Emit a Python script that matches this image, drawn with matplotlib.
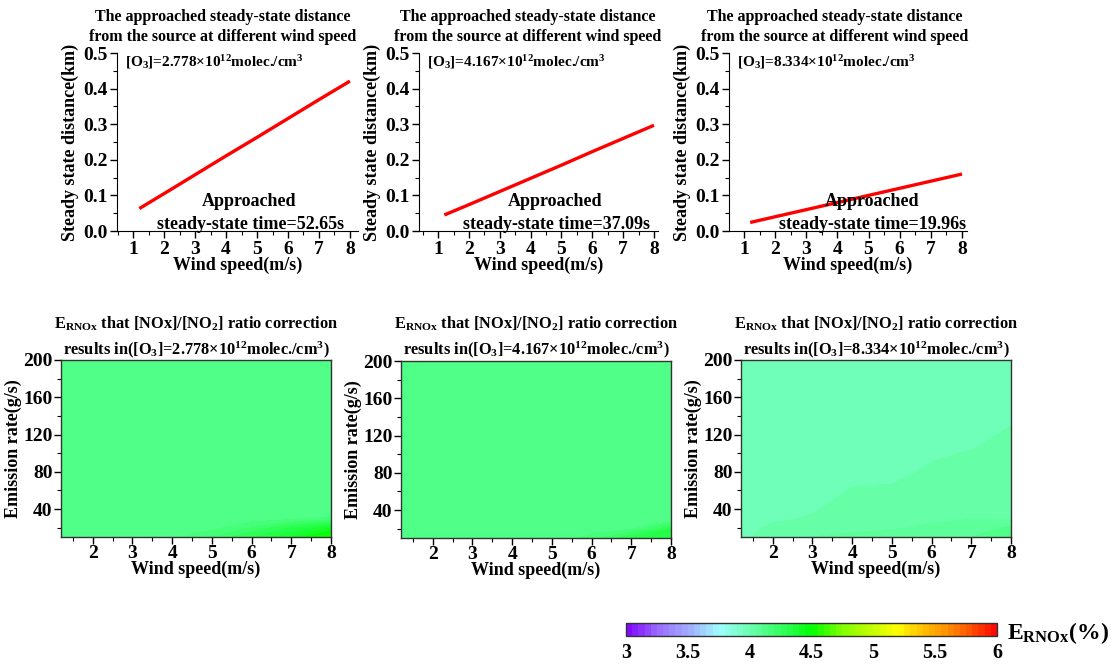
import numpy as np
import matplotlib
matplotlib.use('Agg')
import matplotlib.pyplot as plt
from matplotlib.colors import LinearSegmentedColormap
from matplotlib.ticker import MultipleLocator

plt.rcParams['font.family'] = 'Liberation Serif'
plt.rcParams['font.weight'] = 'bold'
plt.rcParams['axes.labelweight'] = 'bold'
plt.rcParams['mathtext.default'] = 'regular'

# --- top row: steady-state distance against wind speed ---
wind = [1.2, 2, 3, 4, 5, 6, 7, 8]
o3_labels = ['2.778', '4.167', '8.334']
steady_times = ['52.65', '37.09', '19.96']
dist_low = [0.063, 0.105, 0.158, 0.211, 0.263, 0.316, 0.369, 0.421]
dist_mid = [0.045, 0.074, 0.111, 0.148, 0.185, 0.223, 0.260, 0.297]
dist_high = [0.024, 0.040, 0.060, 0.080, 0.100, 0.120, 0.140, 0.160]

# --- bottom row: E_RNOx (%) on the wind speed / emission rate grid ---
emission = [10, 20, 30, 40, 60, 80, 100, 120, 140, 160, 200]
e_low = [
    [4.12, 4.12, 4.12, 4.14, 4.20, 4.30, 4.40, 4.55],
    [4.12, 4.12, 4.12, 4.12, 4.13, 4.20, 4.30, 4.40],
    [4.12, 4.12, 4.12, 4.12, 4.12, 4.12, 4.13, 4.16],
    [4.12, 4.12, 4.12, 4.12, 4.12, 4.12, 4.12, 4.12],
    [4.12, 4.12, 4.12, 4.12, 4.12, 4.12, 4.12, 4.12],
    [4.12, 4.12, 4.12, 4.12, 4.12, 4.12, 4.12, 4.12],
    [4.12, 4.12, 4.12, 4.12, 4.12, 4.12, 4.12, 4.12],
    [4.12, 4.12, 4.12, 4.12, 4.12, 4.12, 4.12, 4.12],
    [4.12, 4.12, 4.12, 4.12, 4.12, 4.12, 4.12, 4.12],
    [4.12, 4.12, 4.12, 4.12, 4.12, 4.12, 4.12, 4.12],
    [4.12, 4.12, 4.12, 4.12, 4.12, 4.12, 4.12, 4.12],
]
e_mid = [
    [4.12, 4.12, 4.12, 4.12, 4.12, 4.17, 4.30, 4.35],
    [4.12, 4.12, 4.12, 4.12, 4.12, 4.12, 4.14, 4.30],
    [4.12, 4.12, 4.12, 4.12, 4.12, 4.12, 4.12, 4.12],
    [4.12, 4.12, 4.12, 4.12, 4.12, 4.12, 4.12, 4.12],
    [4.12, 4.12, 4.12, 4.12, 4.12, 4.12, 4.12, 4.12],
    [4.12, 4.12, 4.12, 4.12, 4.12, 4.12, 4.12, 4.12],
    [4.12, 4.12, 4.12, 4.12, 4.12, 4.12, 4.12, 4.12],
    [4.12, 4.12, 4.12, 4.12, 4.12, 4.12, 4.12, 4.12],
    [4.12, 4.12, 4.12, 4.12, 4.12, 4.12, 4.12, 4.12],
    [4.12, 4.12, 4.12, 4.12, 4.12, 4.12, 4.12, 4.12],
    [4.12, 4.12, 4.12, 4.12, 4.12, 4.12, 4.12, 4.12],
]
e_high = [
    [3.99, 4.02, 4.05, 4.06, 4.07, 4.08, 4.098, 4.16],
    [3.98, 4.01, 4.03, 4.04, 4.045, 4.055, 4.07, 4.11],
    [3.97, 3.99, 4.005, 4.03, 4.03, 4.045, 4.048, 4.045],
    [3.97, 3.98, 3.995, 4.02, 4.02, 4.03, 4.04, 4.04],
    [3.97, 3.97, 3.98, 4.003, 4.005, 4.02, 4.03, 4.03],
    [3.97, 3.97, 3.97, 3.99, 3.99, 4.006, 4.02, 4.02],
    [3.97, 3.97, 3.97, 3.97, 3.97, 3.995, 4.002, 4.015],
    [3.97, 3.97, 3.97, 3.97, 3.97, 3.98, 3.99, 4.005],
    [3.97, 3.97, 3.97, 3.97, 3.97, 3.97, 3.98, 3.995],
    [3.97, 3.97, 3.97, 3.97, 3.97, 3.97, 3.97, 3.98],
    [3.97, 3.97, 3.97, 3.97, 3.97, 3.97, 3.97, 3.97],
]
cbar_ticks = [3, 3.5, 4, 4.5, 5, 5.5, 6]

# colour scale nodes (value, colour)
cmap_nodes = [(3.0, '#8000ff'), (3.25, '#9a6aff'), (3.45, '#a0a0ff'),
              (3.6, '#a0c8ff'), (3.75, '#a0ffff'), (3.9, '#80ffd0'),
              (4.05, '#60ffa0'), (4.2, '#40ff70'), (4.35, '#20ff40'),
              (4.5, '#00ff00'), (4.75, '#80ff00'), (5.2, '#ffff00'),
              (5.4, '#ffc000'), (5.6, '#ff9000'), (5.8, '#ff5000'),
              (6.0, '#ff0000')]
cmap = LinearSegmentedColormap.from_list(
    'ernox', [((v - 3.0) / 3.0, c) for v, c in cmap_nodes])
levels = np.linspace(3, 6, 61)

W, H = 1114, 664
fig = plt.figure(figsize=(W / 100, H / 100), dpi=100)


def px_box(l, t, r, b):
    return [l / W, 1 - b / H, (r - l) / W, (b - t) / H]


top_boxes = [(117, 53, 358, 231), (419, 53, 658, 231), (729, 53, 967, 231)]
top_xlims = [(0.48, 8.26), (0.38, 8.13), (0.52, 8.16)]
top_title_x = [223, 528, 835]
note_x = [0.55, 0.57, 0.60]
dists = [dist_low, dist_mid, dist_high]

for i in range(3):
    ax = fig.add_axes(px_box(*top_boxes[i]))
    ax.plot(wind, dists[i], color='red', lw=2.4, solid_capstyle='butt')
    ax.set_xlim(*top_xlims[i])
    ax.set_ylim(0, 0.5)
    ax.spines['top'].set_visible(False)
    ax.spines['right'].set_visible(False)
    ax.xaxis.set_major_locator(MultipleLocator(1))
    ax.xaxis.set_minor_locator(MultipleLocator(0.5))
    ax.yaxis.set_major_locator(MultipleLocator(0.1))
    ax.yaxis.set_minor_locator(MultipleLocator(0.05))
    ax.yaxis.set_major_formatter(plt.FormatStrFormatter('%.1f'))
    ax.tick_params(which='major', length=5, width=1, labelsize=14, pad=2)
    ax.tick_params(which='minor', length=3, width=0.8)
    ax.set_xlabel('Wind speed(m/s)', fontsize=13, labelpad=-1)
    ax.set_ylabel('Steady state distance(km)', fontsize=13, labelpad=3)
    ax.text(0.035, 0.95, '[O$_3$]=' + o3_labels[i] + '×10$^{12}$molec./cm$^3$',
            transform=ax.transAxes, fontsize=11, va='center', ha='left')
    ax.text(note_x[i], 0.163, 'Approached', transform=ax.transAxes,
            fontsize=13, ha='center', va='center')
    ax.text(note_x[i] + 0.005, 0.034, 'steady-state time=' + steady_times[i] + 's',
            transform=ax.transAxes, fontsize=13, ha='center', va='center')
    fig.text(top_title_x[i] / W, 1 - 17 / H, 'The approached steady-state distance',
             fontsize=11.5, ha='center', va='center')
    fig.text(top_title_x[i] / W, 1 - 37 / H, 'from the source at different wind speed',
             fontsize=11.5, ha='center', va='center')

bottom_boxes = [(61, 360, 331, 537), (401, 361, 671, 538), (741, 360, 1011, 537)]
grids = [e_low, e_mid, e_high]
cs = None
for i in range(3):
    ax = fig.add_axes(px_box(*bottom_boxes[i]))
    cs = ax.contourf(wind, emission, np.array(grids[i]), levels=levels,
                     cmap=cmap, vmin=3, vmax=6)
    ax.set_xlim(1.2, 8)
    ax.set_ylim(10, 200)
    for sp in ax.spines.values():
        sp.set_color('#333333')
        sp.set_linewidth(1)
    ax.set_xticks([2, 3, 4, 5, 6, 7, 8])
    ax.xaxis.set_minor_locator(MultipleLocator(0.5))
    ax.set_yticks([40, 80, 120, 160, 200])
    ax.yaxis.set_minor_locator(MultipleLocator(20))
    ax.tick_params(which='major', length=5, width=1, labelsize=14, pad=1)
    ax.tick_params(which='minor', length=3, width=0.8)
    ax.set_xlabel('Wind speed(m/s)', fontsize=13, labelpad=-1)
    ax.set_ylabel('Emission rate(g/s)', fontsize=13, labelpad=1)
    cx = (bottom_boxes[i][0] + bottom_boxes[i][2]) / 2 / W
    fig.text(cx, 1 - 324 / H,
             'E$_{RNOx}$ that [NOx]/[NO$_2$] ratio correction',
             fontsize=11.8, ha='center', va='center')
    fig.text(cx, 1 - 350 / H,
             'results in([O$_3$]=' + o3_labels[i] + '×10$^{12}$molec./cm$^3$)',
             fontsize=11.8, ha='center', va='center')

cax = fig.add_axes(px_box(626, 623, 997, 636))
cb = fig.colorbar(cs, cax=cax, orientation='horizontal', ticks=cbar_ticks)
cb.ax.set_xticklabels(['3', '3.5', '4', '4.5', '5', '5.5', '6'])
cb.ax.tick_params(length=0, labelsize=14.5, pad=5)
cb.outline.set_edgecolor('#333333')
cb.outline.set_linewidth(1)
fig.text(1007 / W, 1 - 633 / H, 'E$_{RNOx}$(%)', fontsize=17,
         ha='left', va='center')

fig.savefig('out.png', dpi=100)
